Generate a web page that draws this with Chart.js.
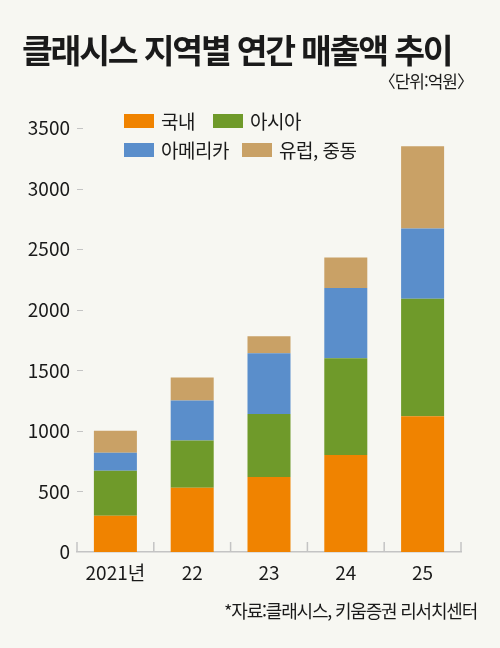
<!DOCTYPE html>
<html lang="ko">
<head>
<meta charset="utf-8">
<script src="https://cdn.jsdelivr.net/npm/chart.js@4"></script>
<style>
  html, body { margin: 0; padding: 0; background: #f7f7f2; }
  #wrap { position: relative; width: 500px; height: 648px; background: #f7f7f2; overflow: hidden;
          font-family: 'Noto Sans CJK KR', 'Noto Sans', sans-serif; color: #1a1a1a; }
  #title { position: absolute; left: 22px; top: 26px; font-size: 33.5px; font-weight: 700;
           letter-spacing: -2.2px; white-space: nowrap; line-height: 46px; }
  #unit { position: absolute; right: 27px; top: 69px; font-size: 17px; letter-spacing: -1px; line-height: 24px; }
  #source { position: absolute; right: 23px; top: 597px; font-size: 18px; letter-spacing: -1.2px; line-height: 26px; }
  .leg { position: absolute; display: flex; align-items: center; font-size: 19px; line-height: 26px; letter-spacing: -0.5px; }
  .leg i { display: inline-block; width: 30px; height: 14px; margin-right: 7px; }
  canvas { position: absolute; left: 0; top: 0; }
</style>
</head>
<body>
<div id="wrap">
  <canvas id="salesChart" width="500" height="648"></canvas>
  <div id="title">클래시스 지역별 연간 매출액 추이</div>
  <div id="unit">〈단위:억원〉</div>
  <div id="source">*자료:클래시스, 키움증권 리서치센터</div>
</div>
<script>
// 연도
const years = ['2021년', '22', '23', '24', '25'];
// 지역별 매출 (억원)
const domestic = [300, 530, 620, 800, 1120];
const asia = [370, 390, 520, 800, 970];
const america = [150, 330, 500, 580, 580];
const europe = [180, 190, 140, 250, 680];
const yTicks = [0, 500, 1000, 1500, 2000, 2500, 3000, 3500];

const seriesNames = ['국내', '아시아', '아메리카', '유럽, 중동'];
const seriesColors = ['#f08300', '#6f9a2a', '#5a8ecb', '#c9a166'];
const seriesData = [domestic, asia, america, europe];

// legend (2 rows, 2 columns)
const legendPos = [[124, 108], [213, 108], [124, 137], [242, 137]];
const wrap = document.getElementById('wrap');
seriesNames.forEach(function(name, i) {
    const el = document.createElement('div');
    el.className = 'leg';
    el.style.left = legendPos[i][0] + 'px';
    el.style.top = legendPos[i][1] + 'px';
    el.innerHTML = '<i style="background:' + seriesColors[i] + '"></i>' + name;
    wrap.appendChild(el);
});

// small tick marks: inward on y, upward at category boundaries on x
const tickMarks = {
    id: 'tickMarks',
    afterDatasetsDraw(chart) {
        const c = chart.ctx;
        const x = chart.scales.x, y = chart.scales.y;
        const area = chart.chartArea;
        c.save();
        c.strokeStyle = '#c4c4c4';
        c.lineWidth = 1;
        yTicks.forEach(function(v) {
            if (v === 0) return;
            const py = Math.round(y.getPixelForValue(v)) + 0.5;
            c.beginPath();
            c.moveTo(area.left, py);
            c.lineTo(area.left + 6, py);
            c.stroke();
        });
        c.lineWidth = 1.5;
        const step = (area.right - area.left) / years.length;
        for (let i = 0; i <= years.length; i++) {
            const px = area.left + step * i;
            c.beginPath();
            c.moveTo(px, area.bottom);
            c.lineTo(px, area.bottom - 10);
            c.stroke();
        }
        c.restore();
    }
};

const ctx = document.getElementById('salesChart').getContext('2d');
const salesChart = new Chart(ctx, {
    type: 'bar',
    data: {
        labels: years,
        datasets: seriesData.map(function(d, i) {
            return {
                label: seriesNames[i],
                data: d,
                backgroundColor: seriesColors[i],
                borderWidth: 0,
                barPercentage: 0.56,
                categoryPercentage: 1.0
            };
        })
    },
    options: {
        responsive: false,
        animation: false,
        layout: { padding: { top: 128, left: 0, right: 39, bottom: 0 } },
        plugins: { legend: { display: false }, tooltip: { enabled: false } },
        scales: {
            x: {
                stacked: true,
                afterFit(scale) { scale.height = 96; },
                grid: { display: false, drawTicks: false },
                border: { display: true, color: '#c4c4c4', width: 1.5 },
                ticks: {
                    color: '#1a1a1a',
                    padding: 9,
                    font: { size: 19, family: "'Noto Sans CJK KR', 'Noto Sans', sans-serif" }
                }
            },
            y: {
                stacked: true,
                min: 0,
                max: 3500,
                afterFit(scale) { scale.width = 77; },
                afterBuildTicks(scale) { scale.ticks = yTicks.map(function(v) { return { value: v }; }); },
                grid: { display: false, drawTicks: false },
                border: { display: false },
                ticks: {
                    color: '#1a1a1a',
                    padding: 7,
                    callback: function(v) { return String(v); },
                    font: { size: 19, family: "'Noto Sans CJK KR', 'Noto Sans', sans-serif" }
                }
            }
        }
    },
    plugins: [tickMarks]
});
</script>
</body>
</html>
